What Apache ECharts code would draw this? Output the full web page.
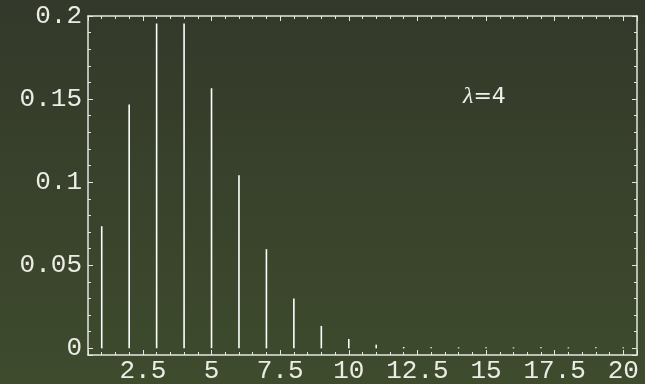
<!DOCTYPE html>
<html>
<head>
<meta charset="utf-8">
<script src="https://cdn.jsdelivr.net/npm/echarts@6/dist/echarts.min.js"></script>
<style>
html,body{margin:0;padding:0;background:#383f2c;}
#chart{width:645px;height:384px;}
</style>
</head>
<body>
<div id="chart"></div>
<script>
// Data (Poisson distribution, lambda = 4)
const xValues = [1, 2, 3, 4, 5, 6, 7, 8, 9, 10, 11, 12, 13, 14, 15, 16, 17, 18, 19, 20];
const yValues = [0.0735, 0.1467, 0.1955, 0.1955, 0.1565, 0.1042, 0.0597, 0.0300, 0.0135, 0.0056, 0.0022, 0.0008, 0.0006, 0.0006, 0.0006, 0.0006, 0.0006, 0.0006, 0.0006, 0.0006];
const xRange = [0.5, 20.5];
const yRange = [-0.004, 0.2];
const xMajorStep = 2.5;
const yMajorStep = 0.05;

const chart = echarts.init(document.getElementById('chart'), null, {renderer: 'canvas'});

const axisColor = '#e6e6e0';
const labelFont = {fontFamily: 'Liberation Mono', fontSize: 26, color: '#ecece6'};

function xAxisDef(pos, showLabels) {
  return {
    type: 'value', position: pos, min: xRange[0], max: xRange[1],
    minInterval: xMajorStep, maxInterval: xMajorStep,
    axisLine: {show: true, onZero: false, lineStyle: {color: axisColor, width: 1.5}},
    axisTick: {show: true, inside: true, length: 5, lineStyle: {color: axisColor, width: 1}},
    minorTick: {show: true, splitNumber: 5, length: 3, lineStyle: {color: axisColor, width: 1}},
    axisLabel: Object.assign({show: showLabels, margin: 3, showMinLabel: false, showMaxLabel: false}, labelFont),
    splitLine: {show: false}, minorSplitLine: {show: false}
  };
}
function yAxisDef(pos, showLabels) {
  return {
    type: 'value', position: pos, min: yRange[0], max: yRange[1],
    minInterval: yMajorStep, maxInterval: yMajorStep,
    axisLine: {show: true, onZero: false, lineStyle: {color: axisColor, width: 1.5}},
    axisTick: {show: true, inside: true, length: 5, lineStyle: {color: axisColor, width: 1}},
    minorTick: {show: true, splitNumber: 5, length: 3, lineStyle: {color: axisColor, width: 1}},
    axisLabel: Object.assign({show: showLabels, margin: 6, showMinLabel: false, showMaxLabel: true,
      formatter: v => String(+v.toFixed(4))}, labelFont),
    splitLine: {show: false}, minorSplitLine: {show: false}
  };
}

const option = {
  animation: false,
  backgroundColor: {
    type: 'linear', x: 0, y: 0, x2: 0, y2: 1,
    colorStops: [{offset: 0, color: '#33392a'}, {offset: 1, color: '#3e4b2d'}]
  },
  grid: {left: 88, right: 8, top: 16, bottom: 29, containLabel: false},
  xAxis: [xAxisDef('bottom', true), xAxisDef('top', false)],
  yAxis: [yAxisDef('left', true), yAxisDef('right', false)],
  series: [{
    type: 'bar',
    xAxisIndex: 0, yAxisIndex: 0,
    barWidth: 1.6,
    itemStyle: {color: '#ffffff'},
    data: xValues.map((x, i) => [x, yValues[i]])
  }],
  graphic: [{
    type: 'text', left: 463, top: 85,
    style: {
      text: '{l|λ}{r|=4}',
      fill: '#f0f0ea',
      rich: {
        l: {fontFamily: 'Liberation Serif', fontStyle: 'italic', fontSize: 24, fill: '#f0f0ea'},
        r: {fontFamily: 'DejaVu Sans', fontSize: 22, fill: '#f0f0ea'}
      }
    }
  }]
};
chart.setOption(option);
</script>
</body>
</html>
